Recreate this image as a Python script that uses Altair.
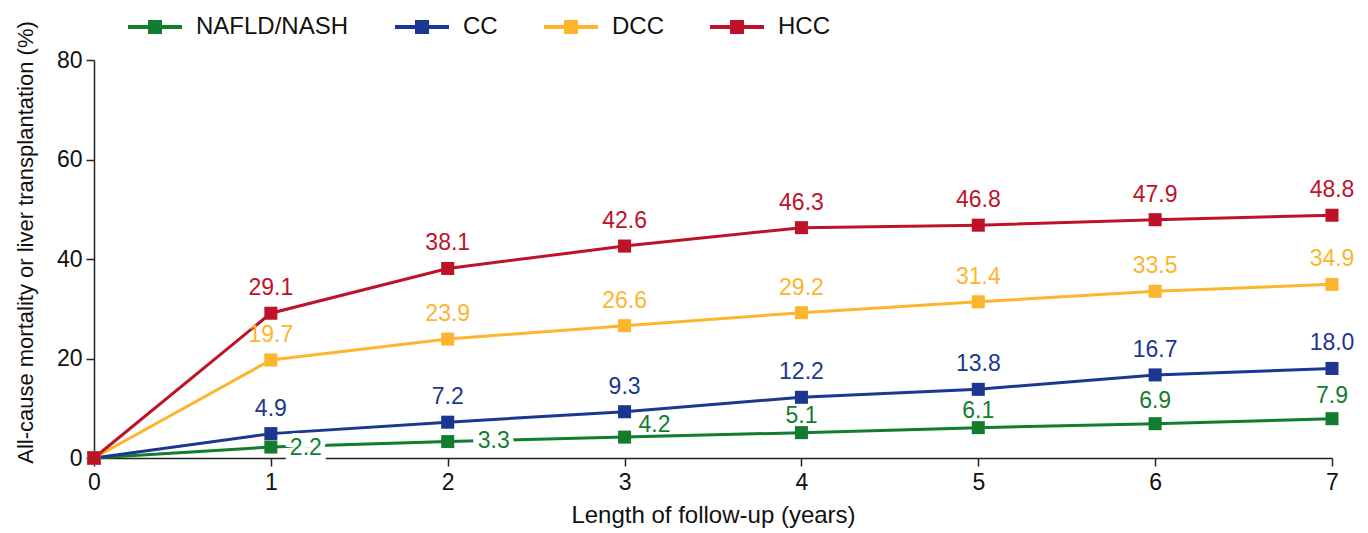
import altair as alt
import pandas as pd

years = [0, 1, 2, 3, 4, 5, 6, 7]
series_names = ["NAFLD/NASH", "CC", "DCC", "HCC"]
nafld = [0, 2.2, 3.3, 4.2, 5.1, 6.1, 6.9, 7.9]
cc = [0, 4.9, 7.2, 9.3, 12.2, 13.8, 16.7, 18.0]
dcc = [0, 19.7, 23.9, 26.6, 29.2, 31.4, 33.5, 34.9]
hcc = [0, 29.1, 38.1, 42.6, 46.3, 46.8, 47.9, 48.8]
colors = ["#127d2e", "#1b3790", "#fdb42f", "#be1229"]

rows = []
for name, vals in zip(series_names, [nafld, cc, dcc, hcc]):
    for yr, v in zip(years, vals):
        rows.append({"series": name, "year": yr, "value": v, "label": f"{v:.1f}"})
df = pd.DataFrame(rows)

FONT = "Liberation Sans"
LABEL_SIZE = 23

x = alt.X("year:Q", scale=alt.Scale(domain=[0, 7], nice=False),
          axis=alt.Axis(values=years, title="Length of follow-up (years)", grid=False,
                        tickSize=8, labelPadding=5, titlePadding=9, format="d",
                        labelFlush=False, labelFontSize=23, titleFontSize=24))
y = alt.Y("value:Q", scale=alt.Scale(domain=[0, 80], nice=False),
          axis=alt.Axis(values=[0, 20, 40, 60, 80], grid=False,
                        title="All-cause mortality or liver transplantation (%)",
                        tickSize=8, labelPadding=4, titlePadding=19, labelFlush=False,
                        labelFontSize=23, titleFontSize=22, titleY=182))
color_scale = alt.Scale(domain=series_names, range=colors)

legend_path = "M-1,-0.074H1V0.074H-1Z M-0.26,-0.26H0.26V0.26H-0.26Z"
leg = alt.Legend(title=None, orient="none", direction="horizontal",
                 legendX=34, legendY=-60,
                 symbolType=legend_path, symbolSize=2916,
                 symbolStrokeWidth=0, symbolOpacity=1,
                 labelFontSize=24, labelOffset=14,
                 columnPadding=46, labelFont=FONT, labelColor="#111")
color = alt.Color("series:N", scale=color_scale, legend=leg)

base = alt.Chart(df)

lines = base.mark_line(strokeWidth=3).encode(
    x=x, y=y, color=color, order="year:Q",
)

points = base.mark_point(shape="square", filled=True, size=170, opacity=1).encode(
    x=x, y=y, color=color,
)

origin_points = base.transform_filter("datum.year === 0").mark_point(
    shape="square", filled=True, size=170, opacity=1).encode(
    x=x, y=y, color=color,
)


def text_layer(filt, dx=0, dy=-17, align="center", halo=False):
    layers = []
    if halo:
        layers.append(base.transform_filter(filt).mark_text(
            fontSize=LABEL_SIZE, font=FONT, dx=dx, dy=dy, align=align, baseline="alphabetic",
            stroke="white", strokeWidth=10, fill="white").encode(x=x, y=y, text="label:N"))
    layers.append(base.transform_filter(filt).mark_text(
        fontSize=LABEL_SIZE, font=FONT, dx=dx, dy=dy, align=align, baseline="alphabetic").encode(
        x=x, y=y, text="label:N", color=color))
    return layers


is_n = "datum.series === 'NAFLD/NASH'"
layers = [points, lines]
layers += text_layer(f"!({is_n}) && datum.year > 0", dy=-18)
layers += text_layer(f"{is_n} && datum.year === 1", dx=19, dy=8, align="left", halo=True)
layers += text_layer(f"{is_n} && datum.year === 2", dx=30, dy=6, align="left", halo=True)
layers += text_layer(f"{is_n} && datum.year === 3", dx=14, dy=-5, align="left")
layers += text_layer(f"{is_n} && (datum.year === 4 || datum.year === 5)", dy=-10)
layers += text_layer(f"{is_n} && datum.year >= 6", dy=-16)
layers.append(origin_points)

chart = alt.layer(*layers).properties(
    width=1238, height=398,
    autosize=alt.AutoSizeParams(type="none"),
    padding={"left": 86, "top": 52, "right": 28, "bottom": 80},
).configure_view(stroke=None).configure_axis(
    labelFont=FONT, titleFont=FONT,
    labelColor="#111", titleColor="#111", titleFontWeight="normal",
    domainColor="#222", tickColor="#222", domainWidth=1.5, tickWidth=1.5,
)

chart.save("out.html", embed_options={"renderer": "svg", "actions": False})
